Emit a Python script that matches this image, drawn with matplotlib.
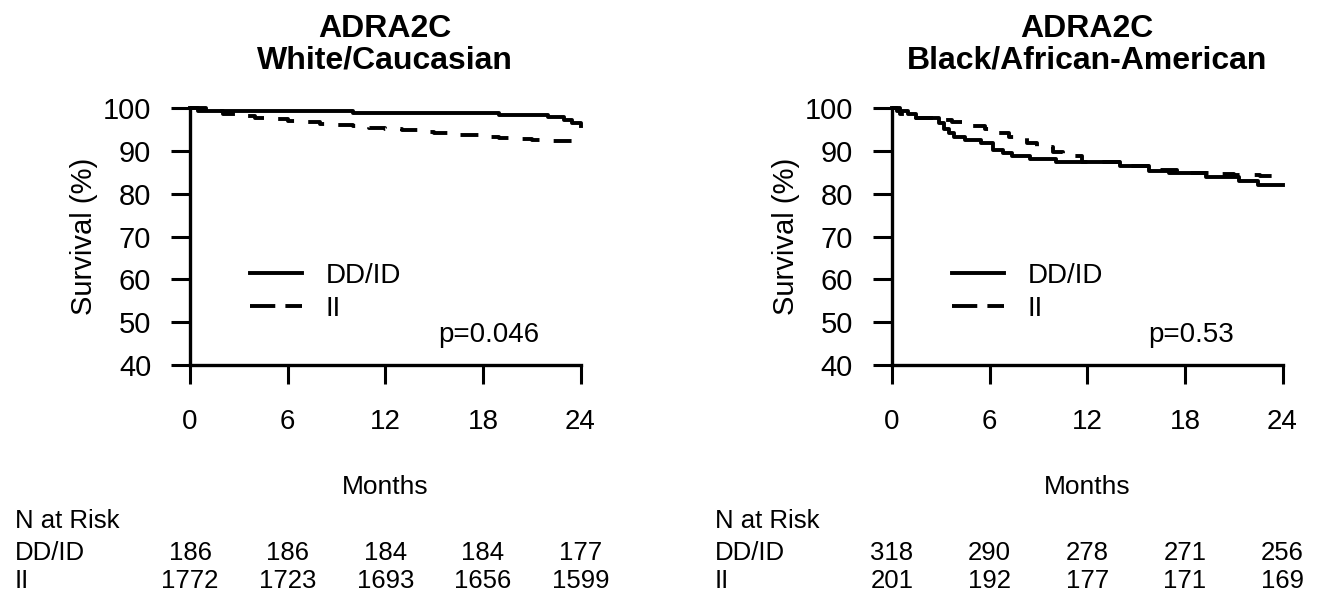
import matplotlib
matplotlib.use('Agg')
import matplotlib.pyplot as plt
from matplotlib.lines import Line2D
from matplotlib.transforms import blended_transform_factory

plt.rcParams['font.family'] = ['Liberation Sans', 'DejaVu Sans']
plt.rcParams['font.size'] = 18

# Kaplan-Meier curves (months, survival %)
white_dd_t = [0, 0.5, 10, 19, 22, 23, 23.5, 24]
white_dd_s = [100, 99.4, 98.9, 98.5, 97.9, 97.3, 96.5, 96.0]
white_ii_t = [0, 1, 2, 3, 4, 5, 6, 7, 8, 9, 10, 11, 12, 13, 14, 15, 16, 17, 18, 19, 20, 21, 22, 23, 24]
white_ii_s = [100, 99.3, 98.8, 98.3, 97.8, 97.5, 97.1, 96.8, 96.4, 96.1, 95.8, 95.5, 95.1,
              94.9, 94.6, 94.3, 93.9, 93.7, 93.4, 93.1, 92.9, 92.7, 92.5, 92.4, 92.4]

black_dd_t = [0, 0.3, 1, 1.5, 2.9, 3.2, 3.5, 3.8, 4.5, 5.5, 6.2, 6.8, 7.4, 8.5, 10.1, 14, 15.8, 17,
              19.3, 21.3, 22.5, 24]
black_dd_s = [100, 99.3, 98.6, 97.7, 96.5, 95.3, 94.2, 93.3, 92.6, 91.9, 90.3, 89.6, 89.0, 88.2,
              87.5, 86.6, 85.3, 84.9, 84.0, 83.0, 82.0, 82.0]
black_ii_t = [0, 0.5, 1.5, 2.8, 3.7, 4.8, 5.7, 6.6, 7.2, 8.3, 8.9, 9.9, 10.5, 11.7, 14.5, 16.2,
              17.5, 19.5, 21, 22.6, 24]
black_ii_s = [100, 98.8, 97.8, 97.3, 96.8, 96.0, 95.2, 94.3, 93.3, 92.0, 91.0, 89.9, 88.9, 87.5,
              86.6, 85.5, 85.0, 84.6, 84.4, 84.2, 84.2]

months = [0, 6, 12, 18, 24]
white_dd_risk = [186, 186, 184, 184, 177]
white_ii_risk = [1772, 1723, 1693, 1656, 1599]
black_dd_risk = [318, 290, 278, 271, 256]
black_ii_risk = [201, 192, 177, 171, 169]

LW = 2.8
DASH = (4.6, 3.9)

fig = plt.figure(figsize=(13.26, 5.99), dpi=100)

panels = [
  (0.1433, "ADRA2C\nWhite/Caucasian", white_dd_t, white_dd_s, white_ii_t, white_ii_s,
   "p=0.046", white_dd_risk, white_ii_risk, 15 / 1326),
  (0.6727, "ADRA2C\nBlack/African-American", black_dd_t, black_dd_s, black_ii_t, black_ii_s,
   "p=0.53", black_dd_risk, black_ii_risk, 715 / 1326),
]

for left, title, dt, ds, it, iss, ptxt, drisk, irisk, xrow in panels:
  ax = fig.add_axes([left, 0.3907, 0.2945, 0.4282])
  ax.step(dt, ds, where='post', color='k', lw=LW, clip_on=False)
  ax.step(it, iss, where='post', color='k', lw=LW, dashes=DASH, clip_on=False)
  ax.set_xlim(0, 24)
  ax.set_ylim(40, 100)
  ax.set_xticks(months)
  ax.set_yticks(range(40, 101, 10))
  for s in ['top', 'right']:
    ax.spines[s].set_visible(False)
  for s in ['left', 'bottom']:
    ax.spines[s].set_linewidth(2.4)
  ax.tick_params(axis='both', direction='out', length=14, width=2.2)
  ax.tick_params(axis='x', pad=18, labelsize=20)
  ax.tick_params(axis='y', pad=14, labelsize=21)
  ax.set_ylabel("Survival (%)", fontsize=21)
  ax.yaxis.set_label_coords(-0.235, 0.5)
  ax.set_title(title, fontsize=23, fontweight='bold', pad=29, linespacing=1.05)
  ax.text(0.5, -0.476, "Months", transform=ax.transAxes, ha='center', va='center', fontsize=19)
  ax.text(0.765, 0.115, ptxt, transform=ax.transAxes, ha='center', va='center', fontsize=20)

  handles = [Line2D([], [], color='k', lw=LW),
             Line2D([], [], color='k', lw=LW, dashes=(6.5, 2.6))]
  ax.legend(handles, ["DD/ID", "II"], loc='center left', bbox_to_anchor=(0.154, 0.282),
            frameon=False, fontsize=20, handlelength=1.87, handletextpad=0.86,
            borderpad=0, borderaxespad=0, labelspacing=0.25)

  # numbers at risk table
  tr = blended_transform_factory(ax.transData, fig.transFigure)
  fig.text(xrow, 0.130, "N at Risk", ha='left', va='center', fontsize=18.5)
  fig.text(xrow, 0.077, "DD/ID", ha='left', va='center', fontsize=18.5)
  fig.text(xrow, 0.030, "II", ha='left', va='center', fontsize=18.5)
  for m, a, b in zip(months, drisk, irisk):
    ax.text(m, 0.077, str(a), transform=tr, ha='center', va='center', fontsize=18.5)
    ax.text(m, 0.030, str(b), transform=tr, ha='center', va='center', fontsize=18.5)

fig.savefig('out.png', dpi=100)
